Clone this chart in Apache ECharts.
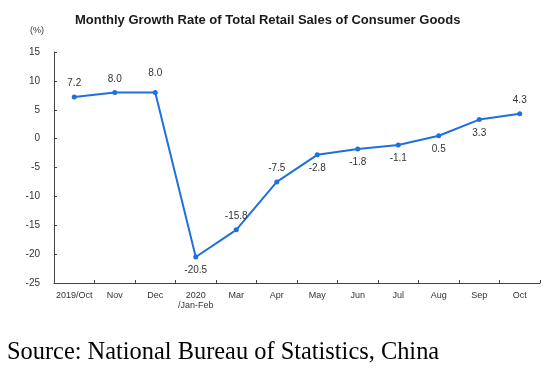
<!DOCTYPE html>
<html><head><meta charset="utf-8">
<script src="https://cdn.jsdelivr.net/npm/echarts@6/dist/echarts.min.js"></script>
<style>html,body{margin:0;padding:0;background:#fff}#c{width:552px;height:369px}</style>
</head><body><div id="c"></div>
<script>
var categories = ['2019/Oct','Nov','Dec','2020\n/Jan-Feb','Mar','Apr','May','Jun','Jul','Aug','Sep','Oct'];
var values = [7.2, 8.0, 8.0, -20.5, -15.8, -7.5, -2.8, -1.8, -1.1, 0.5, 3.3, 4.3];
var labelPos = ['top','top','top','bottom','top','top','bottom','bottom','bottom','bottom','bottom','top'];
var yTicks = [-25, -20, -15, -10, -5, 0, 5, 10, 15];

var chart = echarts.init(document.getElementById('c'), null, {renderer:'canvas'});
var data = values.map(function(v,i){
  return {value:v, label:{position:labelPos[i], distance: (i===2?12:6)}};
});
chart.setOption({
  animation:false,
  backgroundColor:'#fff',
  title:[{
    text:'Monthly Growth Rate of Total Retail Sales of Consumer Goods',
    left:70, top:9,
    textStyle:{fontFamily:'Liberation Sans, Arial', fontWeight:'bold', fontSize:13, color:'#1a1a1a'}
  },{
    text:'(%)', left:25, top:21,
    textStyle:{fontFamily:'Liberation Sans, Arial', fontWeight:'normal', fontSize:9, color:'#333'}
  },{
    text:'Source: National Bureau of Statistics, China',
    left:2, top:336,
    textStyle:{fontFamily:'Liberation Serif, Times New Roman, serif', fontWeight:'normal', fontSize:24.4, color:'#000'}
  }],
  grid:{left:54, right:12, top:52, bottom:86},
  xAxis:{
    type:'category', data:categories, boundaryGap:true,
    axisLine:{onZero:false, lineStyle:{color:'#444', width:1}},
    axisTick:{show:true, inside:true, length:3, lineStyle:{color:'#444'}},
    axisLabel:{fontFamily:'Liberation Sans Narrow, Liberation Sans, Arial', fontSize:9, color:'#333', margin:8, lineHeight:10, interval:0}
  },
  yAxis:{
    type:'value', min:-25, max:15, interval:5,
    axisLine:{show:true, lineStyle:{color:'#444', width:1}},
    axisTick:{show:true, inside:true, length:3, lineStyle:{color:'#444'}},
    splitLine:{show:false},
    axisLabel:{fontFamily:'Liberation Sans, Arial', fontSize:10, color:'#333', margin:14}
  },
  series:[{
    type:'line', data:data,
    lineStyle:{color:'#1f6fe0', width:2},
    itemStyle:{color:'#1f6fe0'},
    symbol:'circle', symbolSize:5,
    label:{show:true, fontFamily:'Liberation Sans, Arial', fontSize:10, color:'#333',
      formatter:function(p){return p.value.toFixed(1);}}
  }]
});
</script></body></html>
